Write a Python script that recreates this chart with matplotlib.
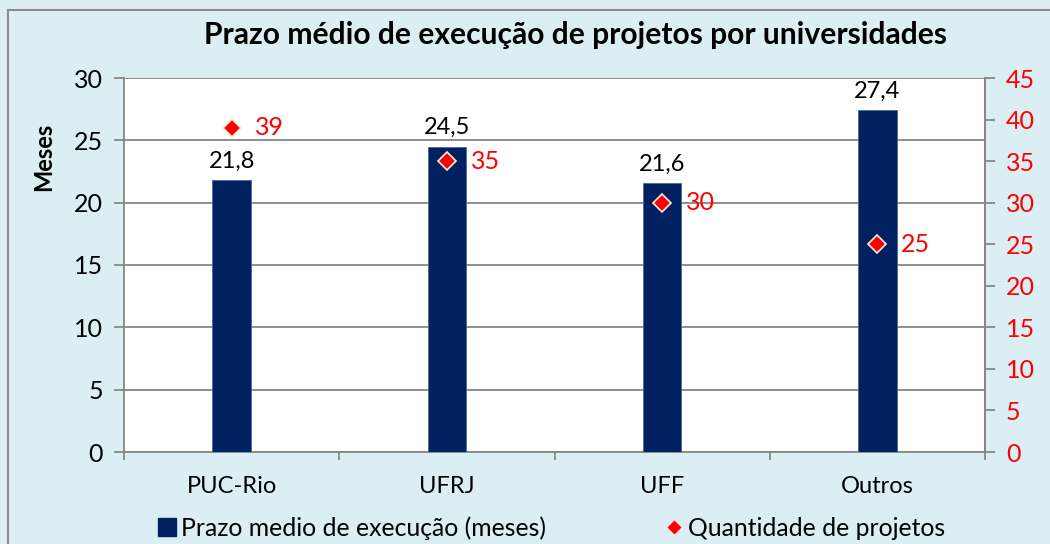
import matplotlib
matplotlib.use("Agg")
import matplotlib.pyplot as plt
from matplotlib.lines import Line2D
from matplotlib.patches import Rectangle
import numpy as np

categories = ["PUC-Rio", "UFRJ", "UFF", "Outros"]
prazo = [21.8, 24.5, 21.6, 27.4]
quantidade = [39, 35, 30, 25]
prazo_labels = ["21,8", "24,5", "21,6", "27,4"]
quant_labels = ["39", "35", "30", "25"]

plt.rcParams['font.family'] = ['Lato', 'DejaVu Sans']

BG = "#DBEEF4"
NAVY = "#002060"
GRID = "#868686"

fig = plt.figure(figsize=(10.5, 5.44), dpi=100)
fig.patch.set_facecolor(BG)
fig.add_artist(Rectangle((8/1050, -0.01), 1.1, 1 - 10/544 + 0.01, transform=fig.transFigure,
                         fill=False, edgecolor="#8c8c8c", linewidth=1.5))

ax = fig.add_axes([124/1050, 1 - 452/544, (985 - 124)/1050, (452 - 78)/544])
ax.set_facecolor("white")
x = np.arange(len(categories))
bars = ax.bar(x, prazo, width=0.18, color=NAVY, edgecolor="#4a6a9a", linewidth=0.6, zorder=3)
ax.set_xlim(-0.5, 3.5)
ax.set_ylim(0, 30)
ax.set_yticks(np.arange(0, 31, 5))
ax.grid(axis='y', color=GRID, linewidth=1.3, zorder=0)
ax.set_xticks([-0.5, 0.5, 1.5, 2.5, 3.5])
ax.set_xticklabels([])
ax.set_xticks(x, minor=True)
ax.set_xticklabels(categories, minor=True, fontsize=17)
ax.tick_params(axis='x', which='minor', length=0, pad=17)
ax.tick_params(axis='x', which='major', length=6, color=GRID, width=1.3)
ax.tick_params(axis='y', length=7, color=GRID, width=1.3, labelsize=18, pad=8)
for s in ['top']:
    ax.spines[s].set_visible(False)
for s in ['left', 'bottom', 'right']:
    ax.spines[s].set_color(GRID)
    ax.spines[s].set_linewidth(1.3)
ax.set_ylabel("Meses", fontsize=17, fontweight='bold', labelpad=14)
ax.yaxis.set_label_coords(-0.08, 0.79)

for xi, v, lab in zip(x, prazo, prazo_labels):
    ax.annotate(lab, (xi, v), xytext=(0, 6), textcoords='offset points',
                ha='center', va='bottom', fontsize=17, color='black')

ax2 = ax.twinx()
ax2.set_ylim(0, 45)
ax2.set_yticks(np.arange(0, 46, 5))
ax2.tick_params(axis='y', length=7, color=GRID, width=1.3, labelsize=18, labelcolor='red', pad=8)
for s in ['top', 'left', 'bottom']:
    ax2.spines[s].set_visible(False)
ax2.spines['right'].set_color(GRID)
ax2.spines['right'].set_linewidth(1.3)
ax2.plot(x, quantidade, linestyle='none', marker='D', markersize=9,
         markerfacecolor='red', markeredgecolor='#f4f0e0', markeredgewidth=1.2, zorder=4)
for xi, v, lab in zip(x, quantidade, quant_labels):
    ax2.annotate(lab, (xi, v), xytext=(17, 0), textcoords='offset points',
                 ha='left', va='center', fontsize=18, color='red')

fig.text(575/1050, 1 - 35/544, "Prazo médio de execução de projetos por universidades",
         ha='center', va='center', fontsize=21.6, fontweight='bold')

h1 = Line2D([], [], linestyle='none', marker='s', markersize=13, color=NAVY)
h2 = Line2D([], [], linestyle='none', marker='D', markersize=8, markerfacecolor='red',
            markeredgecolor='#f4f0e0')
fig.legend([h1, h2], ["Prazo medio de execução (meses)", "Quantidade de projetos"],
           loc='center', bbox_to_anchor=(551/1050, 1 - 528/544), ncol=2, frameon=False,
           fontsize=17.8, handletextpad=0.15, columnspacing=4.8, handlelength=0.8)

fig.savefig("out.png", dpi=100, facecolor=BG)
